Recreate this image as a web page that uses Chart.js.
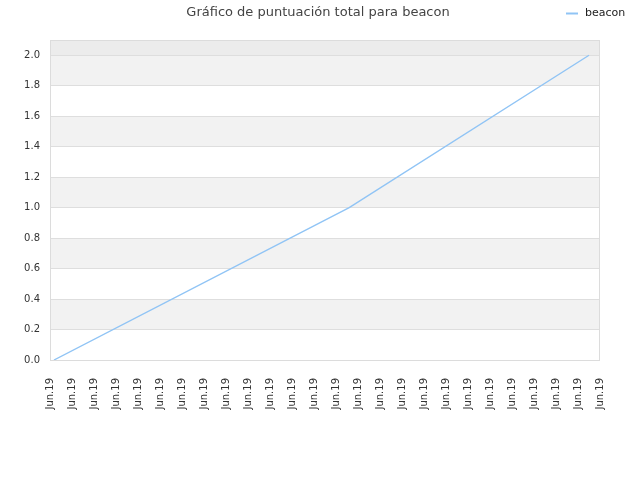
<!DOCTYPE html>
<html>
<head>
<meta charset="utf-8">
<script src="https://cdn.jsdelivr.net/npm/chart.js@4/dist/chart.umd.min.js"></script>
<style>
	html, body { margin: 0; padding: 0; background: #fff; }
	#wrap { width: 640px; height: 480px; }
</style>
</head>
<body>
<div id="wrap"><canvas id="c" width="640" height="480"></canvas></div>
<script>
// Data
const titleText = "Gráfico de puntuación total para beacon";
const seriesName = "beacon";
const tickLabels = Array(26).fill("Jun.19");
const xValues = [0.18, 13.6, 24.5];
const yValues = [0, 1, 2];

const lineColor = "rgba(144,196,245,1)";

// Alternating bands, frame, title and legend
Chart.register({
	id: "decor",
	beforeDraw: (chart) => {
		const { ctx, chartArea } = chart;
		const y = chart.scales.y;
		ctx.save();
		// top strip above 2.0
		ctx.fillStyle = "#ececec";
		ctx.fillRect(chartArea.left, chartArea.top, chartArea.right - chartArea.left, y.getPixelForValue(2.0) - chartArea.top);
		for (let i = 0; i < 10; i++) {
			if (i % 2 === 1) {
				const top = y.getPixelForValue((i + 1) * 0.2);
				const bot = y.getPixelForValue(i * 0.2);
				ctx.fillStyle = "#f2f2f2";
				ctx.fillRect(chartArea.left, top, chartArea.right - chartArea.left, bot - top);
			}
		}
		ctx.restore();
	},
	afterDraw: (chart) => {
		const { ctx, chartArea } = chart;
		ctx.save();
		ctx.strokeStyle = "#dcdcdc";
		ctx.lineWidth = 1;
		ctx.strokeRect(chartArea.left + 0.5, chartArea.top + 0.5, chartArea.right - chartArea.left - 1, chartArea.bottom - chartArea.top);

		ctx.fillStyle = "#444";
		ctx.font = "13px 'DejaVu Sans'";
		ctx.textAlign = "center";
		ctx.textBaseline = "middle";
		ctx.fillText(titleText, 318, 13);

		ctx.strokeStyle = lineColor;
		ctx.lineWidth = 2;
		ctx.beginPath();
		ctx.moveTo(566, 13.5);
		ctx.lineTo(578, 13.5);
		ctx.stroke();
		ctx.fillStyle = "#222";
		ctx.font = "11px 'DejaVu Sans'";
		ctx.textAlign = "left";
		ctx.fillText(seriesName, 585, 13);
		ctx.restore();
	},
});

new Chart(document.getElementById("c"), {
	type: "line",
	data: {
		datasets: [
			{
				label: seriesName,
				data: xValues.map((x, i) => ({ x: x, y: yValues[i] })),
				borderColor: lineColor,
				borderWidth: 1.4,
				pointRadius: 0,
				tension: 0,
			},
		],
	},
	options: {
		responsive: false,
		animation: false,
		layout: { padding: { top: 40, right: 40, left: 0, bottom: 0 } },
		plugins: {
			legend: { display: false },
			title: { display: false },
			tooltip: { enabled: false },
		},
		scales: {
			x: {
				type: "linear",
				min: 0,
				max: 25,
				afterBuildTicks: (axis) => {
					axis.ticks = tickLabels.map((_, i) => ({ value: i }));
				},
				ticks: {
					autoSkip: false,
					maxRotation: 90,
					minRotation: 90,
					padding: 10,
					color: "#333",
					font: { family: "DejaVu Sans", size: 10 },
					callback: (value, index) => tickLabels[index],
				},
				grid: { display: false },
				border: { display: false },
				afterFit: (axis) => {
					axis.height = 120;
				},
			},
			y: {
				min: 0,
				max: 2.1,
				afterBuildTicks: (axis) => {
					axis.ticks = axis.ticks.filter((t) => t.value <= 2.0001);
				},
				ticks: {
					stepSize: 0.2,
					padding: 10,
					color: "#333",
					font: { family: "DejaVu Sans", size: 10 },
					callback: (value) => value.toFixed(1),
				},
				grid: { color: "#dedede", drawTicks: false },
				border: { display: false },
				afterFit: (axis) => {
					axis.width = 50;
				},
			},
		},
	},
});
</script>
</body>
</html>
